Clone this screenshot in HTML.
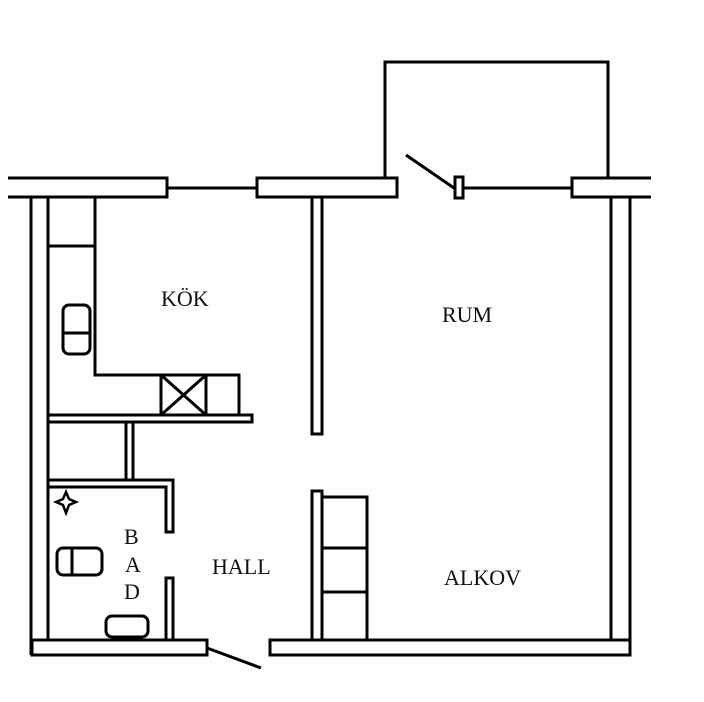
<!DOCTYPE html>
<html><head><style>html,body{margin:0;padding:0;background:#fff}svg{display:block}text{font-family:"Liberation Serif",serif;font-size:22px;fill:#111}</style></head>
<body><svg width="704" height="702" viewBox="0 0 704 702" xmlns="http://www.w3.org/2000/svg">
<g fill="none" stroke="#000" stroke-width="3">
<path d="M8 178H167V197H8"/>
<path d="M167 188H257"/>
<path d="M257 178H397V197H257Z"/>
<path d="M406 155L454 188"/>
<rect x="455" y="177" width="8" height="21"/>
<path d="M463 188H572"/>
<path d="M651 178H572V197H651"/>
<path d="M385 178V62H608V178"/>
<path d="M31 197V655M48 197V640"/>
<path d="M32 640H207V655H32Z"/>
<path d="M207 648L261 668"/>
<path d="M270 640H630V655H270Z"/>
<path d="M611 197V640M630 197V655"/>
<path d="M95 197V375H239V415"/>
<path d="M48 246H95"/>
<rect x="63" y="305" width="27" height="49" rx="6"/>
<path d="M63 333H90"/>
<rect x="161" y="375" width="45" height="40"/>
<path d="M161 375L206 415M206 375L161 415"/>
<path d="M48 415H252V422H48"/>
<path d="M126 422V480M133 422V480"/>
<path d="M48 480H173V532H166V487H48"/>
<path d="M166 640V578H173V640"/>
<path d="M66 492L69 499L76 502L69 505L66 513L63 505L56 502L63 499Z" stroke-width="2.5"/>
<rect x="57" y="548" width="45" height="27" rx="6"/>
<path d="M72 548V575"/>
<rect x="106" y="616" width="42" height="21" rx="6"/>
<rect x="312" y="197" width="10" height="237"/>
<path d="M312 640V491H322V640"/>
<path d="M322 497H367V640M322 548H367M322 592H367"/>
</g>
<text x="161" y="306">KÖK</text>
<text x="442" y="322">RUM</text>
<text x="212" y="574">HALL</text>
<text x="444" y="585">ALKOV</text>
<text x="124" y="544">B</text>
<text x="125" y="572">A</text>
<text x="124" y="599">D</text>
</svg></body></html>
